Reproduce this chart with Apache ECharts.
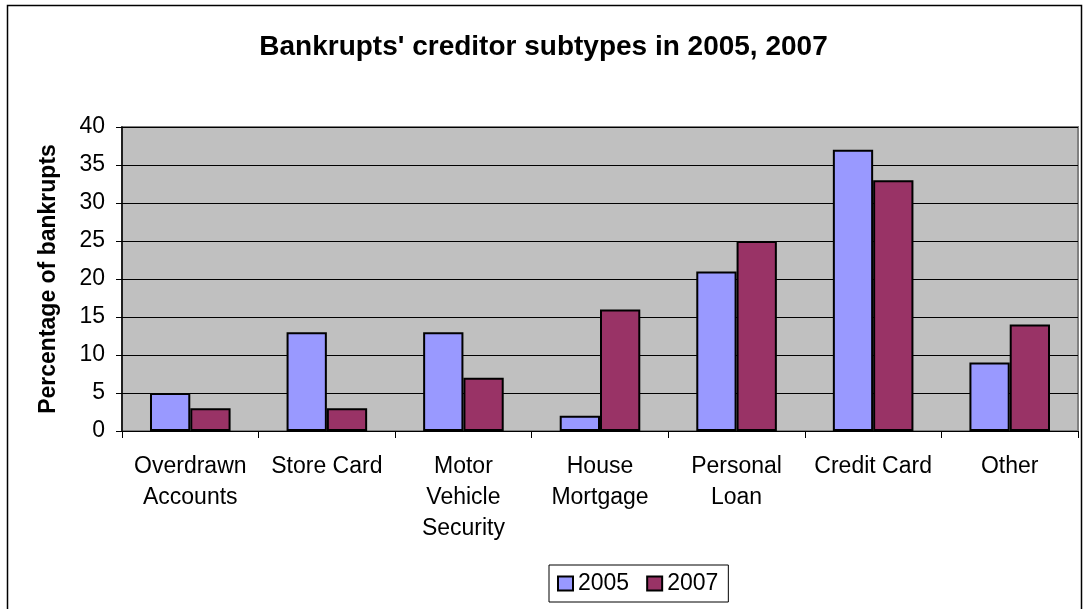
<!DOCTYPE html>
<html>
<head>
<meta charset="utf-8">
<script src="https://cdn.jsdelivr.net/npm/echarts@6/dist/echarts.min.js"></script>
<style>
  html, body { margin: 0; padding: 0; background: #fff; }
  #chart { width: 1087px; height: 609px; }
</style>
</head>
<body>
<div id="chart"></div>
<script>
const categories = ["Overdrawn\nAccounts", "Store Card", "Motor\nVehicle\nSecurity", "House\nMortgage", "Personal\nLoan", "Credit Card", "Other"];
const values2005 = [5, 13, 13, 2, 21, 37, 9];
const values2007 = [3, 3, 7, 16, 25, 33, 14];
const seriesNames = ["2005", "2007"];

const FONT = "Liberation Sans, Arial, sans-serif";
const chart = echarts.init(document.getElementById("chart"));

const barStyle = (color) => ({
  color,
  borderColor: "#000",
  borderWidth: 2
});

chart.setOption({
  animation: false,
  backgroundColor: "#fff",
  textStyle: { fontFamily: FONT },
  title: {
    text: "Bankrupts' creditor subtypes in 2005, 2007",
    left: "center",
    top: 28,
    textStyle: { fontFamily: FONT, fontSize: 28, fontWeight: "bold", color: "#000" }
  },
  graphic: [
    {
      type: "rect",
      shape: { x: 7.5, y: 5.5, width: 1074, height: 620 },
      style: { fill: "none", stroke: "#000", lineWidth: 1.5 },
      silent: true
    }
  ],
  grid: {
    left: 122,
    right: 9,
    top: 127,
    bottom: 178,
    show: true,
    backgroundColor: "#c0c0c0",
    borderColor: "#808080",
    borderWidth: 2
  },
  legend: {
    data: seriesNames,
    bottom: 7,
    left: 549,
    itemWidth: 15,
    itemHeight: 14,
    itemGap: 17,
    padding: [7, 10, 7, 8],
    borderColor: "#000",
    borderWidth: 1,
    backgroundColor: "#fff",
    textStyle: { fontFamily: FONT, fontSize: 23, color: "#000" },
    icon: "rect"
  },
  xAxis: {
    type: "category",
    data: categories,
    axisLine: { show: true, lineStyle: { color: "#000", width: 1 } },
    axisTick: { show: true, length: 7, alignWithLabel: false, lineStyle: { color: "#000" } },
    axisLabel: {
      interval: 0,
      fontFamily: FONT,
      fontSize: 23,
      color: "#000",
      lineHeight: 31,
      margin: 20
    },
    splitLine: { show: false }
  },
  yAxis: {
    type: "value",
    min: 0,
    max: 40,
    interval: 5,
    name: "Percentage of bankrupts",
    nameLocation: "middle",
    nameGap: 62,
    nameTextStyle: { fontFamily: FONT, fontSize: 23, fontWeight: "bold", color: "#000" },
    axisLine: { show: true, lineStyle: { color: "#000", width: 1.5 } },
    axisTick: { show: true, length: 6, inside: false, lineStyle: { color: "#000" } },
    axisLabel: { fontFamily: FONT, fontSize: 23, color: "#000", margin: 17 },
    splitLine: { show: true, lineStyle: { color: "#000", width: 1 } }
  },
  series: [
    {
      name: seriesNames[0],
      type: "bar",
      data: values2005,
      barGap: "0%",
      barCategoryGap: "41%",
      itemStyle: barStyle("#9999ff")
    },
    {
      name: seriesNames[1],
      type: "bar",
      data: values2007,
      itemStyle: barStyle("#993366")
    }
  ]
});
</script>
</body>
</html>
